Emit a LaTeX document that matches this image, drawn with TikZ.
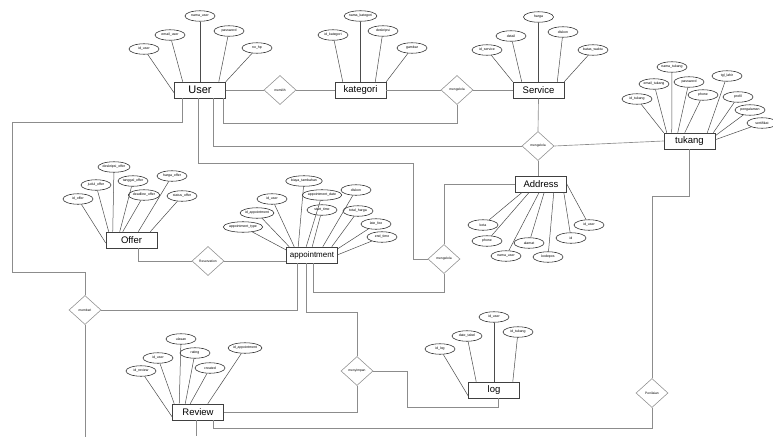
\documentclass[tikz,border=0pt]{standalone}
\usepackage{fontspec}
\setmainfont{Liberation Sans}
\usepackage{tikz}
\usetikzlibrary{shapes.geometric, positioning}
\tikzset{
  entity/.style={rectangle, draw=black!75, fill=white, line width=0.55pt,
    minimum width=51pt, minimum height=16pt, inner sep=1pt, font=\fontsize{9.5}{10}\selectfont},
  attr/.style={ellipse, draw=black!85, fill=white, line width=0.55pt,
    minimum width=30pt, minimum height=10.5pt, inner sep=0pt, font=\fontsize{3.5}{4}\selectfont},
  relation/.style={diamond, draw=black!45, fill=white, line width=0.55pt, aspect=1,
    minimum width=32pt, minimum height=29pt, inner sep=0pt, font=\fontsize{3.3}{4}\selectfont},
  attrline/.style={draw=black!70, line width=0.5pt},
  relline/.style={draw=black!45, line width=0.65pt}
}

\begin{document}
\begin{tikzpicture}[x=1pt, y=-1pt]
  \useasboundingbox (0,0) rectangle (773,436);
  \fill[white] (0,0) rectangle (773,436);

  \node[entity, font=\fontsize{11}{12}\selectfont] (user) at (200,90) {User};
  \node[entity] (kategori) at (360.5,90) {kategori};
  \node[entity] (service) at (538.5,90) {Service};
  \node[entity] (tukang) at (689.5,141) {tukang};
  \node[entity] (address) at (541,184) {Address};
  \node[entity] (offer) at (131.5,240) {Offer};
  \node[entity, font=\fontsize{8}{9}\selectfont] (appointment) at (312,255) {appointment};
  \node[entity] (log) at (494,390) {log};
  \node[entity] (review) at (198,412) {Review};

  \node[relation] (memilih) at (280,90) {memilih};
  \node[relation] (kelolaservice) at (457,90) {mengelola};
  \node[relation] (kelolaaddress) at (538,146) {mengelola};
  \node[relation] (kelolaappt) at (444,259) {mengelola};
  \node[relation] (reservasi) at (208,261) {Reservation};
  \node[relation] (memberi) at (85,310) {memberi};
  \node[relation] (menyimpan) at (357,371) {menyimpan};
  \node[relation] (penilaian) at (652,393) {Penilaian};

  \draw[relline] (user.east) -- (memilih.west);
  \draw[relline] (memilih.east) -- (kategori.west);
  \draw[relline] (kategori.east) -- (kelolaservice.west);
  \draw[relline] (kelolaservice.east) -- (service.west);
  \draw[relline] ([xshift=-2.5pt]user.south east) -- ++(0,25) -| (kelolaservice.south);
  \draw[relline] ([xshift=-18pt]user.south) -- ++(0,24) -- ++(-170,0) -- ++(0,150) -| (memberi.north);
  \draw[relline] (memberi.east) -| ([xshift=-15pt]appointment.south);
  \draw[relline] (memberi.south) -- ++(0,112);
  \draw[relline] ([xshift=6.5pt]offer.south) |- (reservasi.west);
  \draw[relline] (reservasi.east) -- (reservasi.east -| appointment.west);
  \draw[relline] ([xshift=-6pt]appointment.south) -- ++(0,49) -| (menyimpan.north);
  \draw[relline] ([xshift=1pt]appointment.south) -- ++(0,29) -| (kelolaappt.south);
  \draw[relline] (menyimpan.south) |- (review.east);
  \draw[relline] (menyimpan.east) -- ++(34,0) -- ++(0,36) -| ([xshift=4pt]log.south);
  \draw[relline] ([xshift=-2pt]user.south) -- ++(0,65) -- ++(215,0) |- (kelolaappt.west);
  \draw[relline] (kelolaappt.north) |- (address.west);
  \draw[relline] ([xshift=13pt]user.south) |- (kelolaaddress.west);
  \draw[relline] (service.south) -- (kelolaaddress.north);
  \draw[relline] (kelolaaddress.south) -- (kelolaaddress.south |- address.north);
  \draw[relline] (kelolaaddress.east) -- (tukang.west);
  \draw[relline] (tukang.south) -- ++(0,47) -| (penilaian.north);
  \draw[relline] (penilaian.south) -- ++(0,21) -| ([xshift=15pt]review.south);
  \draw[relline] ([xshift=-2pt]review.south) -- ++(0,16);

  \node[attr] (uid) at (144,49) {id\_user};
  \node[attr] (uemail) at (170,35) {email\_user};
  \node[attr] (unama) at (200,16) {nama\_user};
  \node[attr] (upass) at (229,31) {password};
  \node[attr] (uhp) at (257,48) {no\_hp};
  \draw[attrline] (uid) -- ([yshift=-3pt]user.west);
  \draw[attrline] (uemail) -- ([xshift=8.5pt]user.north west);
  \draw[attrline] (unama) -- (user.north);
  \draw[attrline] (upass) -- ([xshift=-7pt]user.north east);
  \draw[attrline] (uhp) -- (user.north east);

  \node[attr] (kid) at (333,35) {id\_kategori};
  \node[attr] (knama) at (360.5,16) {nama\_kategori};
  \node[attr] (kdesk) at (383,31) {deskripsi};
  \node[attr] (kgambar) at (412,48) {gambar};
  \draw[attrline] (kid) -- ([xshift=8pt]kategori.north west);
  \draw[attrline] (knama) -- (kategori.north);
  \draw[attrline] (kdesk) -- ([xshift=-11pt]kategori.north east);
  \draw[attrline] (kgambar) -- (kategori.north east);

  \node[attr] (sid) at (487,50) {id\_service};
  \node[attr] (sdetail) at (511,36) {detail};
  \node[attr] (sharga) at (538.5,17) {harga};
  \node[attr] (sdiskon) at (563,32) {diskon};
  \node[attr] (sbatas) at (593,50) {batas\_waktu};
  \draw[attrline] (sid) -- (service.north west);
  \draw[attrline] (sdetail) -- ([xshift=9pt]service.north west);
  \draw[attrline] (sharga) -- (service.north);
  \draw[attrline] (sdiskon) -- ([xshift=-7pt]service.north east);
  \draw[attrline] (sbatas) -- (service.north east);

  \node[attr] (tid) at (637,99) {id\_tukang};
  \node[attr] (temail) at (654,84) {email\_tukang};
  \node[attr] (tnama) at (672,67) {nama\_tukang};
  \node[attr] (tpass) at (689,82) {password};
  \node[attr] (tphone) at (703,95) {phone};
  \node[attr] (ttgl) at (727,76) {tgl\_lahir};
  \node[attr] (tprofil) at (738,97) {profil};
  \node[attr] (tpengalaman) at (750,110) {pengalaman};
  \node[attr] (tsertifikat) at (762,123) {sertifikat};
  \draw[attrline] (tid) -- (tukang.north west);
  \draw[attrline] (temail) -- ([xshift=3pt]tukang.north west);
  \draw[attrline] (tnama) -- ([xshift=8pt]tukang.north west);
  \draw[attrline] (tpass) -- ([xshift=14pt]tukang.north west);
  \draw[attrline] (tphone) -- ([xshift=21pt]tukang.north west);
  \draw[attrline] (ttgl) -- ([xshift=-8pt]tukang.north east);
  \draw[attrline] (tprofil) -- ([xshift=-2pt]tukang.north east);
  \draw[attrline] (tpengalaman) -- ([yshift=-3pt]tukang.north east);
  \draw[attrline] (tsertifikat) -- ([yshift=-7pt]tukang.north east);

  \node[attr] (akota) at (483,225) {kota};
  \node[attr] (aphone) at (487,241) {phone};
  \node[attr] (anama) at (506,256) {nama\_user};
  \node[attr] (aalamat) at (529,243) {alamat};
  \node[attr] (akodepos) at (548,257) {kodepos};
  \node[attr] (aid) at (571,238) {id};
  \node[attr] (auser) at (589,225) {id\_user};
  \draw[attrline] (akota) -- ([xshift=7pt]address.south west);
  \draw[attrline] (aphone) -- ([xshift=14pt]address.south west);
  \draw[attrline] (anama) -- ([xshift=24pt]address.south west);
  \draw[attrline] (aalamat) -- ([xshift=29pt]address.south west);
  \draw[attrline] (akodepos) -- ([xshift=-13pt]address.south east);
  \draw[attrline] (aid) -- ([xshift=-3pt]address.south east);
  \draw[attrline] (auser) -- (address.east);

  \node[attr] (oid) at (78,199) {id\_offer};
  \node[attr] (ojudul) at (96,185) {judul\_offer};
  \node[attr] (odesk) at (114,167) {deskripsi\_offer};
  \node[attr] (otanggal) at (133,181) {tanggal\_offer};
  \node[attr] (odeadline) at (144,195) {deadline\_offer};
  \node[attr] (oharga) at (172,176) {harga\_offer};
  \node[attr] (ostatus) at (182,196) {status\_offer};
  \draw[attrline] (oid) -- ([yshift=-3pt]offer.west);
  \draw[attrline] (ojudul) -- ([xshift=3pt]offer.north west);
  \draw[attrline] (odesk) -- ([xshift=7pt]offer.north west);
  \draw[attrline] (otanggal) -- ([xshift=14pt]offer.north west);
  \draw[attrline] (odeadline) -- ([xshift=17pt]offer.north west);
  \draw[attrline] (oharga) -- ([xshift=-19pt]offer.north east);
  \draw[attrline] (ostatus) -- ([xshift=-7pt]offer.north east);

  \node[attr] (ptype) at (243,227) {appointment\_type};
  \node[attr] (pid) at (257,213) {id\_appointment};
  \node[attr] (puser) at (272,199) {id\_user};
  \node[attr] (pbiaya) at (304,181) {biaya\_tambahan};
  \node[attr] (pdate) at (322,195) {appointment\_date};
  \node[attr] (pstart) at (322,210) {start\_time};
  \node[attr] (pdiskon) at (356,190) {diskon};
  \node[attr] (ptotal) at (358,211) {total\_harga};
  \node[attr] (plate) at (376,224) {late\_fee};
  \node[attr] (pend) at (382,237) {end\_time};
  \draw[attrline] (ptype) -- ([yshift=5pt]appointment.west);
  \draw[attrline] (pid) -- ([xshift=3pt]appointment.north west);
  \draw[attrline] (puser) -- ([xshift=8pt]appointment.north west);
  \draw[attrline] (pbiaya) -- ([xshift=12pt]appointment.north west);
  \draw[attrline] (pdate) -- ([xshift=20pt]appointment.north west);
  \draw[attrline] (pstart) -- ([xshift=26pt]appointment.north west);
  \draw[attrline] (pdiskon) -- ([xshift=-15pt]appointment.north east);
  \draw[attrline] (ptotal) -- ([xshift=-6pt]appointment.north east);
  \draw[attrline] (plate) -- ([yshift=-2pt]appointment.north east);
  \draw[attrline] (pend) -- ([yshift=-8pt]appointment.north east);

  \node[attr] (lid) at (440,349) {id\_log};
  \node[attr] (ldate) at (467,336) {date\_tabel};
  \node[attr] (luser) at (494,317) {id\_user};
  \node[attr] (ltukang) at (518,332) {id\_tukang};
  \draw[attrline] (lid) -- ([yshift=-6pt]log.west);
  \draw[attrline] (ldate) -- ([xshift=8pt]log.north west);
  \draw[attrline] (luser) -- (log.north);
  \draw[attrline] (ltukang) -- ([xshift=-7pt]log.north east);

  \node[attr] (rid) at (141,371) {id\_review};
  \node[attr] (ruser) at (158,358) {id\_user};
  \node[attr] (rulasan) at (181,339) {ulasan};
  \node[attr] (rrating) at (195,353) {rating};
  \node[attr] (rdate) at (210,368) {created};
  \node[attr] (rappt) at (245,348) {id\_appointment};
  \draw[attrline] (rid) -- ([yshift=-5pt]review.west);
  \draw[attrline] (ruser) -- ([xshift=2pt]review.north west);
  \draw[attrline] (rulasan) -- ([xshift=7pt]review.north west);
  \draw[attrline] (rrating) -- ([xshift=13pt]review.north west);
  \draw[attrline] (rdate) -- ([xshift=18pt]review.north west);
  \draw[attrline] (rappt) -- ([xshift=-16pt]review.north east);
\end{tikzpicture}
\end{document}
